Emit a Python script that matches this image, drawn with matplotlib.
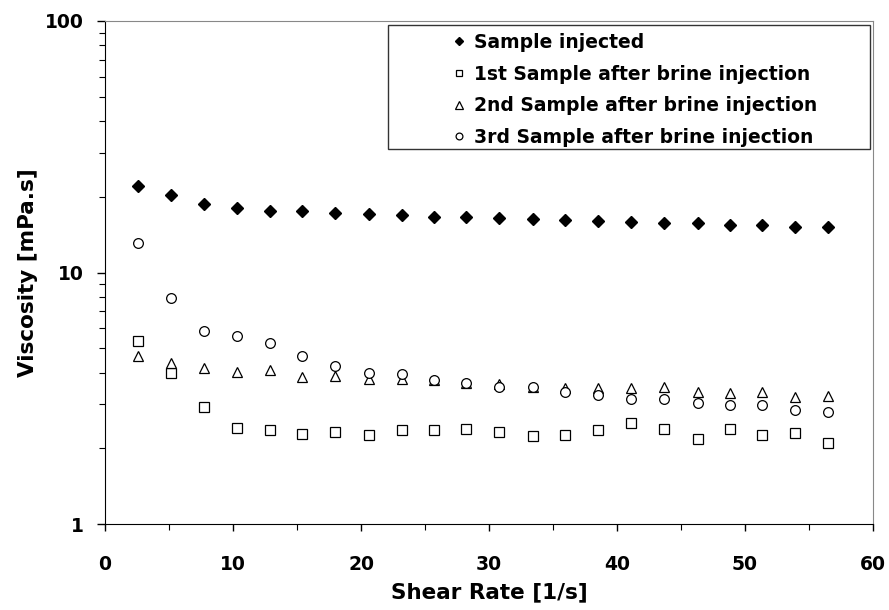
import matplotlib.pyplot as plt
from matplotlib.patches import Rectangle
from matplotlib.ticker import MultipleLocator, LogLocator, NullFormatter

plt.rcParams['font.family'] = ['DejaVu Sans']
plt.rcParams['font.weight'] = 'bold'

shear_rate = [2.58, 5.16, 7.75, 10.3, 12.9, 15.4, 18.0, 20.6, 23.2, 25.7, 28.2,
              30.8, 33.4, 35.9, 38.5, 41.1, 43.7, 46.3, 48.8, 51.3, 53.9, 56.5]

sample_injected = [22.1, 20.4, 18.7, 18.0, 17.6, 17.5, 17.2, 17.1, 16.9, 16.6, 16.6,
                   16.5, 16.3, 16.1, 16.0, 15.9, 15.8, 15.7, 15.5, 15.4, 15.2, 15.2]
sample_1st = [5.34, 4.00, 2.91, 2.41, 2.36, 2.28, 2.33, 2.26, 2.36, 2.36, 2.38,
              2.33, 2.24, 2.26, 2.36, 2.51, 2.39, 2.17, 2.38, 2.26, 2.31, 2.10]
sample_2nd = [4.66, 4.36, 4.16, 4.02, 4.10, 3.85, 3.89, 3.78, 3.78, 3.74, 3.65,
              3.60, 3.52, 3.48, 3.46, 3.48, 3.50, 3.34, 3.32, 3.34, 3.19, 3.23]
sample_3rd = [13.1, 7.94, 5.84, 5.61, 5.23, 4.64, 4.25, 3.98, 3.96, 3.74, 3.65,
              3.52, 3.52, 3.34, 3.26, 3.15, 3.15, 3.02, 2.96, 2.97, 2.84, 2.80]

labels = ['Sample injected',
          '1st Sample after brine injection',
          '2nd Sample after brine injection',
          '3rd Sample after brine injection']

fig = plt.figure(figsize=(8.89, 6.10), dpi=100)
ax = fig.add_axes([105 / 889, 86 / 610, 768 / 889, 503 / 610])

ax.plot(shear_rate, sample_injected, linestyle='none', marker='D', markersize=6,
        color='black', label=labels[0])
ax.plot(shear_rate, sample_1st, linestyle='none', marker='s', markersize=7,
        markerfacecolor='white', markeredgecolor='black', markeredgewidth=0.9,
        label=labels[1])
ax.plot(shear_rate, sample_2nd, linestyle='none', marker='^', markersize=7.5,
        markerfacecolor='white', markeredgecolor='black', markeredgewidth=0.9,
        label=labels[2])
ax.plot(shear_rate, sample_3rd, linestyle='none', marker='o', markersize=7,
        markerfacecolor='white', markeredgecolor='black', markeredgewidth=0.9,
        label=labels[3])

ax.set_yscale('log')
ax.set_xlim(0, 60)
ax.set_ylim(1, 100)
ax.xaxis.set_major_locator(MultipleLocator(10))
ax.xaxis.set_minor_locator(MultipleLocator(5))
ax.yaxis.set_minor_locator(LogLocator(base=10, subs=range(2, 10), numticks=20))
ax.yaxis.set_minor_formatter(NullFormatter())
ax.set_yticks([1, 10, 100])
ax.set_yticklabels(['1', '10', '100'])

ax.tick_params(axis='y', which='major', direction='out', length=6, width=1,
               labelsize=13.5, pad=9)
ax.tick_params(axis='y', which='minor', direction='out', length=4, width=0.8)
ax.tick_params(axis='x', which='major', direction='out', length=5, width=1,
               labelsize=13.5, pad=17)
ax.tick_params(axis='x', which='minor', direction='out', length=4, width=0.8)

ax.spines['top'].set_color('#888888')
ax.spines['right'].set_color('#888888')

ax.set_xlabel('Shear Rate [1/s]', fontsize=15.5, fontweight='bold', labelpad=6)
ax.set_ylabel('Viscosity [mPa.s]', fontsize=15.5, fontweight='bold', labelpad=5)

# legend box drawn separately so it can be wider than its content
ax.add_patch(Rectangle((283 / 768, 375 / 503), 482 / 768, 124 / 503,
                       transform=ax.transAxes, facecolor='white',
                       edgecolor='#333333', linewidth=1, zorder=4))
leg = ax.legend(loc='upper left', bbox_to_anchor=(348 / 768, 491 / 503),
                frameon=False, fontsize=13.5, markerscale=0.7,
                handlelength=0.6, handletextpad=0.5, labelspacing=0.67,
                borderpad=0.0, borderaxespad=0.0)
leg.set_zorder(5)

plt.savefig('out.png', dpi=100)
